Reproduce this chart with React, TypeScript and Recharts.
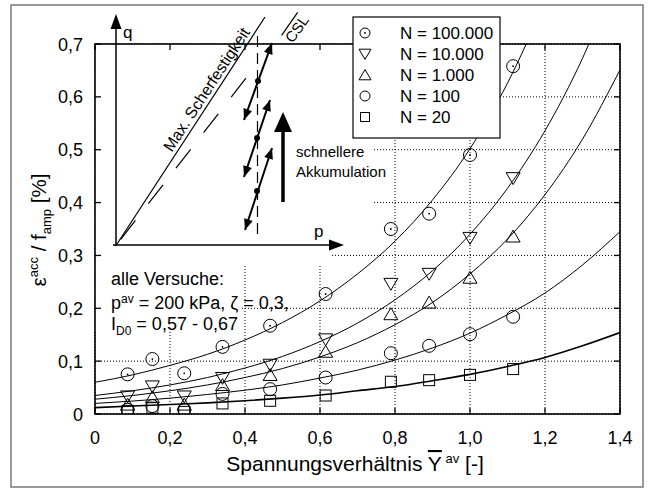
import React from 'react';
import {
  ComposedChart,
  Line,
  Scatter,
  XAxis,
  YAxis,
  CartesianGrid,
  ReferenceArea,
} from 'recharts';

const FONT = '"Liberation Sans", Arial, Helvetica, sans-serif';

const xTicks = [0, 0.2, 0.4, 0.6, 0.8, 1.0, 1.2, 1.4];
const yTicks = [0, 0.1, 0.2, 0.3, 0.4, 0.5, 0.6, 0.7];

// stress ratio of the tests
const testX = [0.087, 0.153, 0.238, 0.34, 0.467, 0.615, 0.789, 0.891, 1.0, 1.115];

// measured eps_acc / f_amp [%]
const n100000 = [0.075, 0.104, 0.077, 0.127, 0.167, 0.227, 0.35, 0.379, 0.49, 0.658];
const n10000 = [0.033, 0.052, 0.033, 0.068, 0.093, 0.141, 0.246, 0.265, 0.333, 0.446];
const n1000 = [0.018, 0.032, 0.018, 0.055, 0.074, 0.118, 0.189, 0.211, 0.258, 0.336];
const n100 = [0.008, 0.015, 0.008, 0.038, 0.047, 0.069, 0.115, 0.129, 0.151, 0.184];
const n20 = [0.006, 0.012, 0.004, 0.02, 0.025, 0.035, 0.061, 0.064, 0.074, 0.085];

const fitX = [0, 0.1, 0.2, 0.3, 0.4, 0.5, 0.6, 0.7, 0.8, 0.9, 1.0, 1.1, 1.2, 1.3, 1.4];
const fit100000 = [0.06, 0.074, 0.092, 0.113, 0.14, 0.173, 0.214, 0.265, 0.327, 0.405, 0.502, 0.626, 0.78];
const fit10000 = [0.035, 0.044, 0.055, 0.069, 0.087, 0.109, 0.137, 0.172, 0.216, 0.271, 0.34, 0.427, 0.536, 0.673, 0.845];
const fit1000 = [0.028, 0.035, 0.044, 0.055, 0.069, 0.086, 0.108, 0.135, 0.169, 0.211, 0.265, 0.331, 0.415, 0.52, 0.651];
const fit100 = [0.02, 0.0245, 0.03, 0.037, 0.045, 0.055, 0.068, 0.083, 0.102, 0.125, 0.153, 0.188, 0.229, 0.282, 0.345];
const fit20 = [0.012, 0.015, 0.018, 0.021, 0.025, 0.03, 0.036, 0.044, 0.052, 0.063, 0.075, 0.09, 0.107, 0.129, 0.154];

const legendLabels = ['N = 100.000', 'N = 10.000', 'N = 1.000', 'N = 100', 'N = 20'];

const PLOT_W = 525;
const PLOT_H = 370;

const pts = (ys: number[]) => ys.map((y, i) => ({ x: testX[i], y }));
const curve = (ys: number[]) => ys.map((y, i) => ({ x: fitX[i], y }));
const fmt = (v: number) => (v === 0 ? '0' : v.toFixed(1).replace('.', ','));

// marker shapes
const DotCircle = ({ cx, cy, r = 6.5 }: any) => (
  <g>
    <circle cx={cx} cy={cy} r={r} fill="none" stroke="#000" strokeWidth={1} />
    <circle cx={cx} cy={cy} r={0.9} fill="#000" />
  </g>
);
const Circle = ({ cx, cy, r = 6.5 }: any) => (
  <circle cx={cx} cy={cy} r={r} fill="none" stroke="#000" strokeWidth={1} />
);
const TriDown = ({ cx, cy, s = 7 }: any) => (
  <polygon
    points={`${cx - s},${cy - s * 0.8} ${cx + s},${cy - s * 0.8} ${cx},${cy + s * 0.9}`}
    fill="none" stroke="#000" strokeWidth={1}
  />
);
const TriUp = ({ cx, cy, s = 7 }: any) => (
  <polygon
    points={`${cx - s},${cy + s * 0.8} ${cx + s},${cy + s * 0.8} ${cx},${cy - s * 0.9}`}
    fill="none" stroke="#000" strokeWidth={1}
  />
);
const Square = ({ cx, cy, s = 5.5 }: any) => (
  <rect x={cx - s} y={cy - s} width={2 * s} height={2 * s} fill="none" stroke="#000" strokeWidth={1} />
);

const YTick = ({ x, y, payload }: any) => (
  <g>
    <line x1={x} x2={x + 6} y1={y} y2={y} stroke="#000" strokeWidth={1.3} />
    <line x1={x + PLOT_W - 6} x2={x + PLOT_W} y1={y} y2={y} stroke="#000" strokeWidth={1.3} />
    <text x={x - 12} y={y + 6.5} textAnchor="end" fontSize={18} fontFamily={FONT} fill="#000">
      {fmt(payload.value)}
    </text>
  </g>
);

const XTick = ({ x, y, payload }: any) => (
  <g>
    <line x1={x} x2={x} y1={y} y2={y - 6} stroke="#000" strokeWidth={1.3} />
    <line x1={x} x2={x} y1={y - PLOT_H} y2={y - PLOT_H + 6} stroke="#000" strokeWidth={1.3} />
    <text x={x} y={y + 30} textAnchor="middle" fontSize={18} fontFamily={FONT} fill="#000">
      {fmt(payload.value)}
    </text>
  </g>
);

function head(tx: number, ty: number, fx: number, fy: number, len: number, half: number) {
  const d = Math.hypot(tx - fx, ty - fy);
  const ux = (tx - fx) / d;
  const uy = (ty - fy) / d;
  const bx = tx - ux * len;
  const by = ty - uy * len;
  return `${tx},${ty} ${bx - uy * half},${by + ux * half} ${bx + uy * half},${by - ux * half}`;
}

const DoubleArrow = ({ x1, y1, x2, y2 }: any) => (
  <g>
    <line x1={x1} y1={y1} x2={x2} y2={y2} stroke="#000" strokeWidth={2} />
    <polygon points={head(x1, y1, x2, y2, 11, 4.5)} fill="#000" />
    <polygon points={head(x2, y2, x1, y1, 11, 4.5)} fill="#000" />
  </g>
);

function Overlay() {
  const rows = [33, 54, 75, 96, 117];
  const markers = [DotCircle, TriDown, TriUp, Circle, Square];
  const small = [{ r: 5 }, { s: 6 }, { s: 6 }, { r: 5 }, { s: 4.5 }];
  return (
    <g fontFamily={FONT} fill="#000">
      <rect x={11} y={5} width={632} height={482} fill="none" stroke="#7a7a7a" strokeWidth={1.5} />
      <rect x={95} y={44} width={PLOT_W} height={PLOT_H} fill="none" stroke="#000" strokeWidth={1.6} />

      {/* inset: p-q diagram */}
      <line x1={116} y1={246} x2={116} y2={28} stroke="#000" strokeWidth={1.5} />
      <polygon points={head(116, 14, 116, 246, 15, 5.5)} fill="#000" />
      <line x1={113} y1={245} x2={330} y2={245} stroke="#000" strokeWidth={1.5} />
      <polygon points={head(344, 245, 113, 245, 15, 5.5)} fill="#000" />
      <text x={123} y={38} fontSize={17}>q</text>
      <text x={314} y={237} fontSize={17}>p</text>

      <line x1={117} y1={244} x2={265} y2={17} stroke="#000" strokeWidth={1.2} />
      <g transform="translate(214,94.5) rotate(-56.8)">
        <text x={0} y={-3.5} textAnchor="middle" fontSize={16}>Max. Scherfestigkeit</text>
      </g>
      <line x1={117} y1={244} x2={257} y2={64} stroke="#000" strokeWidth={1.2}
        strokeDasharray="24 21" strokeDashoffset={39} />
      <g transform="translate(297,29) rotate(-55)">
        <text x={0} y={5} textAnchor="middle" fontSize={15}>CSL</text>
        <line x1={-14} x2={14} y1={-9} y2={-9} stroke="#000" strokeWidth={1.2} />
      </g>

      <line x1={257.5} y1={36} x2={257.5} y2={238} stroke="#000" strokeWidth={1.2} strokeDasharray="11 6" />
      <DoubleArrow x1={244} y1={120} x2={272} y2={43} />
      <DoubleArrow x1={244} y1={177} x2={270} y2={100} />
      <DoubleArrow x1={245} y1={230} x2={272} y2={148} />
      <circle cx={258} cy={81} r={3} fill="#000" />
      <circle cx={257} cy={138} r={3} fill="#000" />
      <circle cx={257} cy={191} r={3} fill="#000" />

      <line x1={283} y1={202} x2={283} y2={128} stroke="#000" strokeWidth={3.5} />
      <polygon points={head(283, 112, 283, 202, 20, 9)} fill="#000" />
      <text x={296} y={157} fontSize={15}>schnellere</text>
      <text x={296} y={177} fontSize={15}>Akkumulation</text>

      {/* test conditions */}
      <text x={111} y={285} fontSize={18}>alle Versuche:</text>
      <text x={111} y={309} fontSize={18}>
        p<tspan dy={-6} fontSize={12}>av</tspan><tspan dy={6}> = 200 kPa, ζ = 0,3,</tspan>
      </text>
      <text x={111} y={330} fontSize={18}>
        I<tspan dy={5} fontSize={12}>D0</tspan><tspan dy={-5}> = 0,57 - 0,67</tspan>
      </text>

      {/* legend */}
      <rect x={353} y={17} width={147} height={121} fill="#fff" stroke="#000" strokeWidth={1.2} />
      {legendLabels.map((label, i) => {
        const M = markers[i];
        return (
          <g key={label}>
            <M cx={365} cy={rows[i]} {...small[i]} />
            <text x={400} y={rows[i] + 6} fontSize={17}>{label}</text>
          </g>
        );
      })}

      {/* axis titles */}
      <text x={355} y={471} textAnchor="middle" fontSize={21}>
        Spannungsverhältnis <tspan style={{ textDecoration: 'overline' }}>Y</tspan>
        <tspan dy={-8} fontSize={13}> av</tspan><tspan dy={8}> [-]</tspan>
      </text>
      <g transform="translate(46,230) rotate(-90)">
        <text x={0} y={0} textAnchor="middle" fontSize={20.5}>
          ε<tspan dy={-8} fontSize={13}>acc</tspan>
          <tspan dy={8}> / f</tspan>
          <tspan dy={5} fontSize={13}>amp</tspan>
          <tspan dy={-5}> [%]</tspan>
        </text>
      </g>
    </g>
  );
}

export default function App() {
  return (
    <div style={{ position: 'absolute', left: 0, top: 0, width: 654, height: 492, background: '#fff' }}>
      <ComposedChart width={654} height={492} margin={{ top: 44, right: 34, bottom: 48, left: 45 }}>
        <CartesianGrid stroke="#000" strokeDasharray="1 2" strokeWidth={1} />
        <XAxis
          type="number"
          dataKey="x"
          domain={[0, 1.4]}
          ticks={xTicks}
          allowDataOverflow
          height={30}
          tickSize={0}
          tickMargin={0}
          axisLine={false}
          tick={<XTick />}
        />
        <YAxis
          type="number"
          dataKey="y"
          domain={[0, 0.7]}
          ticks={yTicks}
          allowDataOverflow
          width={50}
          tickSize={0}
          tickMargin={0}
          axisLine={false}
          tick={<YTick />}
        />
        <ReferenceArea x1={0} x2={0.63} y1={0.28} y2={0.7} fill="#fff" fillOpacity={1} stroke="none" />
        <ReferenceArea x1={0} x2={0.74} y1={0.37} y2={0.7} fill="#fff" fillOpacity={1} stroke="none" />
        <ReferenceArea x1={0} x2={0.39} y1={0.155} y2={0.3} fill="#fff" fillOpacity={1} stroke="none" />

        <Line data={curve(fit100000)} dataKey="y" type="monotone" stroke="#000" strokeWidth={1} dot={false} isAnimationActive={false} />
        <Line data={curve(fit10000)} dataKey="y" type="monotone" stroke="#000" strokeWidth={1} dot={false} isAnimationActive={false} />
        <Line data={curve(fit1000)} dataKey="y" type="monotone" stroke="#000" strokeWidth={1} dot={false} isAnimationActive={false} />
        <Line data={curve(fit100)} dataKey="y" type="monotone" stroke="#000" strokeWidth={1} dot={false} isAnimationActive={false} />
        <Line data={curve(fit20)} dataKey="y" type="monotone" stroke="#000" strokeWidth={1.6} dot={false} isAnimationActive={false} />

        <Scatter data={pts(n100000)} dataKey="y" shape={<DotCircle />} isAnimationActive={false} />
        <Scatter data={pts(n10000)} dataKey="y" shape={<TriDown />} isAnimationActive={false} />
        <Scatter data={pts(n1000)} dataKey="y" shape={<TriUp />} isAnimationActive={false} />
        <Scatter data={pts(n100)} dataKey="y" shape={<Circle />} isAnimationActive={false} />
        <Scatter data={pts(n20)} dataKey="y" shape={<Square />} isAnimationActive={false} />
      </ComposedChart>
      <svg
        width={654}
        height={492}
        style={{ position: 'absolute', left: 0, top: 0, pointerEvents: 'none' }}
      >
        <Overlay />
      </svg>
    </div>
  );
}
